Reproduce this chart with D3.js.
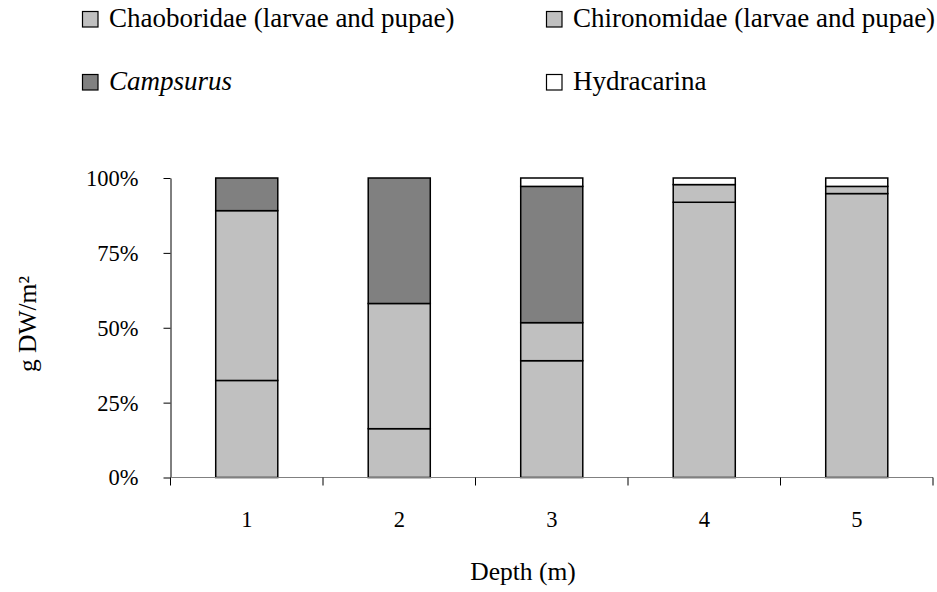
<!DOCTYPE html>
<html><head><meta charset="utf-8">
<script src="https://cdn.jsdelivr.net/npm/d3@7"></script>
<style>body{margin:0;background:#fff}svg{display:block}</style>
</head><body><svg id="c" width="937" height="592"></svg>
<script>
const depths = ["1","2","3","4","5"];
const seriesNames = ["Chaoboridae (larvae and pupae)","Chironomidae (larvae and pupae)","Campsurus","Hydracarina"];
const chaoboridae = [32.4, 16.3, 39.0, 91.9, 94.8];
const chironomidae = [56.7, 41.8, 12.7, 5.9, 2.4];
const campsurus = [10.9, 41.9, 45.5, 0, 0];
const hydracarina = [0, 0, 2.8, 2.2, 2.8];
const yTicks = [0, 25, 50, 75, 100];
const colors = ["#c0c0c0","#c0c0c0","#808080","#ffffff"];
const FONT = "'Liberation Serif', 'Times New Roman', serif";

const svg = d3.select("#c");
const m = {l:170.5, r:933, t:178, b:477.5};
const x = d3.scaleBand().domain(depths).range([m.l, m.r]).paddingInner(0.593).paddingOuter(0.2965);
const y = d3.scaleLinear().domain([0,100]).range([m.b, m.t]);

const rows = depths.map((d,i)=>({depth:d, s0:chaoboridae[i], s1:chironomidae[i], s2:campsurus[i], s3:hydracarina[i]}));
const stack = d3.stack().keys(["s0","s1","s2","s3"])(rows);

stack.forEach((layer,k)=>{
  svg.append("g").selectAll("rect").data(layer.filter(d=>d[1]-d[0]>0)).join("rect")
    .attr("x", d=>x(d.data.depth)).attr("width", x.bandwidth())
    .attr("y", d=>y(d[1])).attr("height", d=>y(d[0])-y(d[1]))
    .attr("fill", colors[k]).attr("stroke","#000").attr("stroke-width",1.5);
});

function txt(sel, size){ return sel.style("font-family",FONT).style("font-size",(size||22.5)+"px").attr("fill","#000"); }

// y axis
const yAxis = svg.append("g").attr("transform",`translate(${m.l},0)`)
  .call(d3.axisLeft(y).tickValues(yTicks).tickFormat(d=>d+"%").tickSize(7).tickSizeOuter(0));
yAxis.select(".domain").attr("stroke","#000");
yAxis.selectAll(".tick line").attr("stroke","#000");
txt(yAxis.selectAll(".tick text").attr("x",-32).attr("dy","0.33em"));

// x axis
const bounds = [m.l, ...depths.map(d=>x(d)+x.bandwidth()/2 + x.step()/2)];
const xg = svg.append("g");
xg.append("line").attr("x1",m.l).attr("x2",m.r).attr("y1",m.b).attr("y2",m.b).attr("stroke","#808080").attr("stroke-width",1.2);
xg.selectAll("line.t").data(bounds).join("line").attr("class","t")
  .attr("x1",d=>d).attr("x2",d=>d).attr("y1",m.b).attr("y2",m.b+8).attr("stroke","#000");
txt(xg.selectAll("text").data(depths).join("text")
  .attr("x",d=>x(d)+x.bandwidth()/2).attr("y",527).attr("text-anchor","middle")).text(d=>d);

txt(svg.append("text").attr("x",523).attr("y",580).attr("text-anchor","middle"), 25.5).text("Depth (m)");
txt(svg.append("text").attr("transform","translate(36,324) rotate(-90)").attr("text-anchor","middle"), 25.5)
  .text("g DW/m²");

// legend
const leg = [
  {x:82, y:27, i:0},{x:546, y:27, i:1},{x:82, y:90, i:2},{x:546, y:90, i:3}
];
leg.forEach(p=>{
  svg.append("rect").attr("x",p.x+0.5).attr("y",p.y-15.5).attr("width",15.5).attr("height",15.5)
    .attr("fill",colors[p.i]).attr("stroke","#000").attr("stroke-width",1.2);
  txt(svg.append("text").attr("x",p.x+27).attr("y",p.y), 27)
    .style("font-style", p.i===2?"italic":"normal").text(seriesNames[p.i]);
});
</script></body></html>
